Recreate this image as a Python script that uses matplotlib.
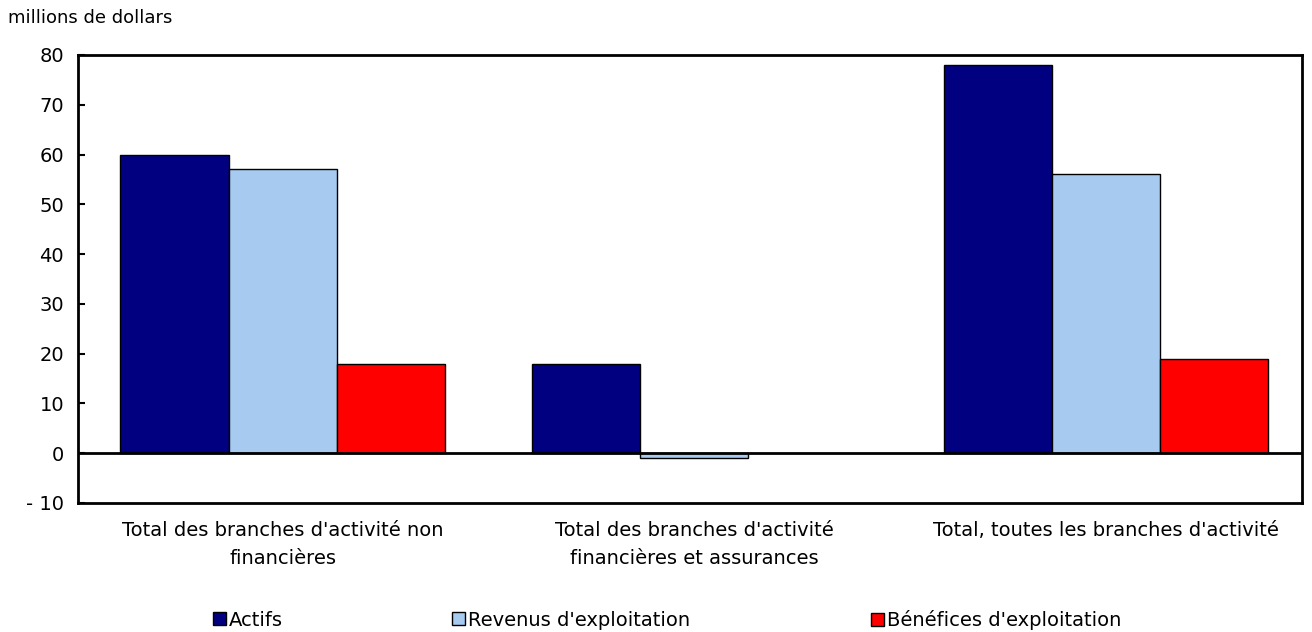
import numpy as np
import matplotlib
matplotlib.use("Agg")
import matplotlib.pyplot as plt

categories = ["Total des branches d'activité non\nfinancières",
              "Total des branches d'activité\nfinancières et assurances",
              "Total, toutes les branches d'activité"]
series_names = ["Actifs", "Revenus d'exploitation", "Bénéfices d'exploitation"]
actifs = [60, 18, 78]
revenus = [57, -1, 56]
benefices = [18, 0, 19]
colors = ["#000080", "#A6CAF0", "#FF0000"]

plt.rcParams['font.family'] = ['Verdana', 'DejaVu Sans']

fig = plt.figure(figsize=(13.12, 6.32), dpi=100)
ax = fig.add_axes([78/1312, 1-503/632, 1224/1312, 448/632])

x = np.arange(len(categories))
w = 0.2625
bars = []
for i, (vals, col, name) in enumerate(zip([actifs, revenus, benefices], colors, series_names)):
    v = np.array(vals, dtype=float)
    mask = v != 0
    b = ax.bar(x[mask] + (i - 1) * w, v[mask], w, color=col, edgecolor="black",
               linewidth=1, label=name, zorder=2)
    bars.append(b)

ax.axhline(0, color="black", linewidth=2, zorder=3)
ax.set_xlim(-0.497, 2.477)
ax.set_ylim(-10, 80)
ax.set_yticks(range(-10, 81, 10))
ax.set_yticklabels(["- 10"] + [str(t) for t in range(0, 81, 10)])
ax.tick_params(axis="y", direction="in", length=5, width=1.5, labelsize=14, pad=10)
ax.set_xticks(x)
ax.set_xticklabels(categories, fontsize=14, linespacing=1.6)
ax.tick_params(axis="x", length=0, pad=13)
for s in ax.spines.values():
    s.set_linewidth(2)

fig.text(8/1312, 1-18/632, "millions de dollars", fontsize=13, va="center", ha="left")

# one legend per entry so each lands where the reference has it
leg_x = [213, 452, 871]
for b, name, lx in zip(bars, series_names, leg_x):
    fig.legend([b], [name], loc="center left", bbox_to_anchor=(lx/1312, 1-620/632),
               frameon=False, fontsize=14, handlelength=0.65, handleheight=0.65,
               handletextpad=0.15, borderpad=0, borderaxespad=0)

fig.savefig("out.png", dpi=100)
